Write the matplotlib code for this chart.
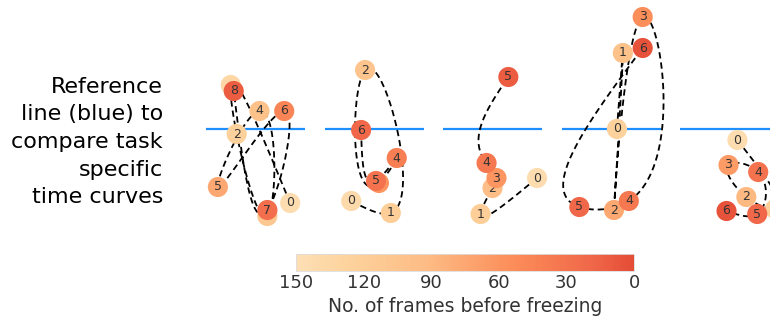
import numpy as np
import matplotlib
matplotlib.use("Agg")
import matplotlib.pyplot as plt
from matplotlib.colors import LinearSegmentedColormap, Normalize

# Trajectory points per task: x position, y offset from reference, frames before freezing
t1_x = [0.85, 0.25, 0.31, 0.62, 0.54, 0.12, 0.79, 0.62, 0.28]
t1_y = [-0.74, 0.44, -0.05, -0.87, 0.18, -0.58, 0.18, -0.81, 0.38]
t1_frames = [145, 135, 125, 110, 100, 75, 45, 25, 10]

t2_x = [0.27, 0.67, 0.41, 0.55, 0.73, 0.52, 0.37]
t2_y = [-0.72, -0.84, 0.59, -0.54, -0.29, -0.52, -0.01]
t2_frames = [140, 120, 105, 60, 40, 30, 20]

t3_x = [0.95, 0.38, 0.50, 0.54, 0.44, 0.66]
t3_y = [-0.49, -0.85, -0.59, -0.49, -0.34, 0.52]
t3_frames = [145, 120, 95, 60, 35, 10]

t4_x = [0.56, 0.62, 0.53, 0.82, 0.68, 0.18, 0.82]
t4_y = [0.00, 0.76, -0.81, 1.12, -0.72, -0.78, 0.81]
t4_frames = [125, 100, 75, 55, 35, 20, 5]

t5_x = [0.58, 0.96, 0.67, 0.49, 0.79, 0.78, 0.47]
t5_y = [-0.11, -0.80, -0.68, -0.36, -0.43, -0.85, -0.82]
t5_frames = [145, 120, 90, 65, 30, 20, 5]

tasks = [(t1_x, t1_y, t1_frames), (t2_x, t2_y, t2_frames), (t3_x, t3_y, t3_frames),
         (t4_x, t4_y, t4_frames), (t5_x, t5_y, t5_frames)]

cbar_ticks = [150, 120, 90, 60, 30, 0]


def cubic_spline(t, v, tt):
    # natural cubic spline through (t, v), evaluated at tt
    n = len(t)
    h = np.diff(t)
    A = np.zeros((n, n))
    b = np.zeros(n)
    A[0, 0] = 1
    A[-1, -1] = 1
    for i in range(1, n - 1):
        A[i, i - 1] = h[i - 1]
        A[i, i] = 2 * (h[i - 1] + h[i])
        A[i, i + 1] = h[i]
        b[i] = 6 * ((v[i + 1] - v[i]) / h[i] - (v[i] - v[i - 1]) / h[i - 1])
    M = np.linalg.solve(A, b)
    i = np.clip(np.searchsorted(t, tt) - 1, 0, n - 2)
    hi = h[i]
    a = t[i + 1] - tt
    c = tt - t[i]
    return (M[i] * a ** 3 / (6 * hi) + M[i + 1] * c ** 3 / (6 * hi)
            + (v[i] / hi - M[i] * hi / 6) * a + (v[i + 1] / hi - M[i + 1] * hi / 6) * c)


def smooth_path(x, y, n=400):
    x = np.asarray(x, float)
    y = np.asarray(y, float)
    t = np.concatenate([[0], np.cumsum(np.hypot(np.diff(x), np.diff(y)))])
    tt = np.linspace(0, t[-1], n)
    return cubic_spline(t, x, tt), cubic_spline(t, y, tt)


cmap = LinearSegmentedColormap.from_list("frames", plt.cm.OrRd(np.linspace(0.68, 0.18, 256)))
norm = Normalize(vmin=0, vmax=150)

fig = plt.figure(figsize=(7.7, 3.2), dpi=100)
fig_w = fig.get_size_inches()[0] * fig.dpi

for k, (xs, ys, frames) in enumerate(tasks):
    left = (206 + k * 118.5) / 770
    ax = fig.add_axes([left, 0.275, 99 / 770, 0.725])
    ax.set_xlim(0, 1)
    ax.set_ylim(-1.03, 1.29)
    ax.axis("off")
    ax.axhline(0, color="#1e8fff", lw=1.6, zorder=1)
    sx, sy = smooth_path(xs, ys)
    ax.plot(sx, sy, color="black", lw=1.3, dashes=(3.5, 2.2), zorder=2, clip_on=False)
    pts = np.column_stack([xs, ys])
    for i, (px, py, f) in enumerate(zip(xs, ys, frames)):
        ax.scatter(px, py, s=210, color=cmap(norm(f)), edgecolors="none",
                   zorder=3 + 2 * i, clip_on=False)
        # skip labels hidden under a later marker or past the figure edge
        covered = np.any(np.hypot(*(pts[i + 1:] - pts[i]).T) < 0.08)
        off_fig = ax.transData.transform((px, py))[0] > fig_w - 3
        if not (covered or off_fig):
            ax.text(px, py, str(i), ha="center", va="center", fontsize=9,
                    color="#333333", zorder=4 + 2 * i)

fig.text(163 / 770, 0.556, "Reference\nline (blue) to\ncompare task\nspecific\ntime curves",
         ha="right", va="center", multialignment="right", fontsize=16, linespacing=1.48)

# colorbar for frames before freezing
cax = fig.add_axes([296 / 770, 0.153, 338 / 770, 0.053])
sm = plt.cm.ScalarMappable(norm=norm, cmap=cmap)
cb = fig.colorbar(sm, cax=cax, orientation="horizontal", ticks=cbar_ticks)
cb.ax.invert_xaxis()
cb.outline.set_edgecolor("#dddddd")
cb.outline.set_linewidth(0.6)
cb.ax.tick_params(length=0, labelsize=13, labelcolor="#333333", pad=2)
cb.set_label("No. of frames before freezing", fontsize=13.5, color="#333333", labelpad=4)

fig.savefig("out.png", dpi=100)
